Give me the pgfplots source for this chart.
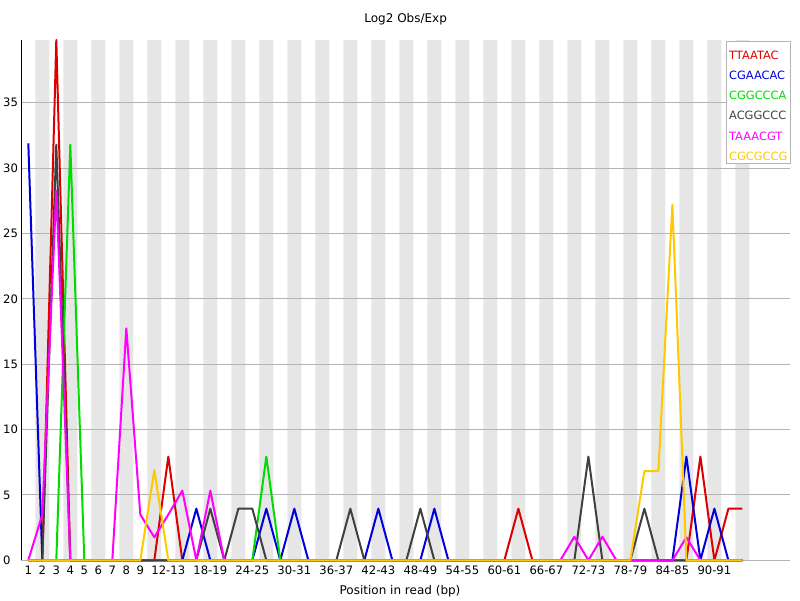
\documentclass[border=0pt]{standalone}
\usepackage{pgfplots}
\pgfplotsset{compat=1.18}
\usepackage{pgfplotstable}
\usepackage{fontspec}
\setmainfont{DejaVu Sans}

\definecolor{cRed}{RGB}{220,0,0}
\definecolor{cBlue}{RGB}{0,0,220}
\definecolor{cGreen}{RGB}{0,220,0}
\definecolor{cGray}{RGB}{64,64,64}
\definecolor{cMag}{RGB}{255,0,255}
\definecolor{cOrange}{RGB}{255,200,0}
\definecolor{stripe}{RGB}{230,230,230}
\definecolor{gridc}{RGB}{180,180,180}

\pgfplotstableread{
x red blue green gray mag orange
0 0 31.9 0 0 0 0
1 0 0 0 0 3.5 0
2 39.8 0 0 31.8 28.3 0
3 0 0 31.8 0 0 0
4 0 0 0 0 0 0
5 0 0 0 0 0 0
6 0 0 0 0 0 0
7 0 0 0 0 17.75 0
8 0 0 0 0 3.5 0
9 0 0 0 0 1.76 6.9
10 7.93 0 0 0 3.5 0
11 0 0 0 0 5.33 0
12 0 3.95 0 0 0 0
13 0 0 0 3.95 5.33 0
14 0 0 0 0 0 0
15 0 0 0 3.95 0 0
16 0 0 0 3.95 0 0
17 0 3.95 7.93 0 0 0
18 0 0 0 0 0 0
19 0 3.95 0 0 0 0
20 0 0 0 0 0 0
21 0 0 0 0 0 0
22 0 0 0 0 0 0
23 0 0 0 3.95 0 0
24 0 0 0 0 0 0
25 0 3.95 0 0 0 0
26 0 0 0 0 0 0
27 0 0 0 0 0 0
28 0 0 0 3.95 0 0
29 0 3.95 0 0 0 0
30 0 0 0 0 0 0
31 0 0 0 0 0 0
32 0 0 0 0 0 0
33 0 0 0 0 0 0
34 0 0 0 0 0 0
35 3.95 0 0 0 0 0
36 0 0 0 0 0 0
37 0 0 0 0 0 0
38 0 0 0 0 0 0
39 0 0 0 0 1.8 0
40 0 0 0 7.93 0 0
41 0 0 0 0 1.8 0
42 0 0 0 0 0 0
43 0 0 0 0 0 0
44 0 0 0 3.95 0 6.83
45 0 0 0 0 0 6.83
46 0 0 0 0 0 27.2
47 0 7.93 0 0 1.76 0
48 7.93 0 0 0 0 0
49 0 3.95 0 0 0 0
50 3.95 0 0 0 0 0
51 3.95 0 0 0 0 0
}\kmer

\begin{document}
\begin{tikzpicture}
\begin{axis}[
  set layers,
  scale only axis,
  width=768.7pt, height=520.3pt,
  xmin=-0.5, xmax=54.4, ymin=0, ymax=39.8,
  clip=false,
  axis lines*=left,
  x axis line style={draw=none},
  y axis line style={black, line width=1pt},
  major tick length=0pt,
  ytick={0,5,10,15,20,25,30,35},
  ymajorgrids,
  major grid style={gridc, line width=1pt},
  xtick={0,1,2,3,4,5,6,7,8,10,13,16,19,22,25,28,31,34,37,40,43,46,49},
  xticklabels={1,2,3,4,5,6,7,8,9,12-13,18-19,24-25,30-31,36-37,42-43,48-49,54-55,60-61,66-67,72-73,78-79,84-85,90-91},
  /pgf/number format/assume math mode=true,
  tick label style={font=\fontsize{11.6}{13}\selectfont, inner sep=0pt},
  xticklabel style={anchor=base, yshift=-13.9pt},
  yticklabel style={anchor=west, xshift=-18.3pt},
  title={Log2 Obs/Exp},
  title style={at={(axis description cs:0.5,1)}, anchor=base, yshift=11pt, inner sep=0pt, font=\fontsize{12}{14}\selectfont},
  xlabel={Position in read (bp)},
  xlabel style={at={(axis description cs:0.4927,0)}, anchor=base, yshift=-34pt, inner sep=0pt, font=\fontsize{12}{14}\selectfont},
  legend style={at={(axis description cs:1.0009,0.9987)}, anchor=north east,
    draw=gridc, fill=white, inner xsep=3pt, inner ysep=2.7pt,
    row sep=4.4pt, column sep=0pt,
    font=\fontsize{11.4}{13}\selectfont,
    nodes={inner sep=0pt, text height=15.8pt, text depth=0pt}},
  legend image code/.code={},
  legend cell align=left,
  every axis plot/.append style={line width=2pt, line join=round},
]
\addplot[on layer=axis background, ybar, bar width=1, bar shift=0, fill=stripe, draw=none, line width=0pt, forget plot]
  coordinates {(1,39.8) (3,39.8) (5,39.8) (7,39.8) (9,39.8) (11,39.8) (13,39.8) (15,39.8) (17,39.8) (19,39.8)
  (21,39.8) (23,39.8) (25,39.8) (27,39.8) (29,39.8) (31,39.8) (33,39.8) (35,39.8) (37,39.8) (39,39.8)
  (41,39.8) (43,39.8) (45,39.8) (47,39.8) (49,39.8) (51,39.8)};
\addplot[cRed] table[x=x, y=red] {\kmer};
\addlegendentry[text=cRed]{TTAATAC}
\addplot[cBlue] table[x=x, y=blue] {\kmer};
\addlegendentry[text=cBlue]{CGAACAC}
\addplot[cGreen] table[x=x, y=green] {\kmer};
\addlegendentry[text=cGreen]{CGGCCCA}
\addplot[cGray] table[x=x, y=gray] {\kmer};
\addlegendentry[text=cGray]{ACGGCCC}
\addplot[cMag] table[x=x, y=mag] {\kmer};
\addlegendentry[text=cMag]{TAAACGT}
\addplot[cOrange] table[x=x, y=orange] {\kmer};
\addlegendentry[text=cOrange]{CGCGCCG}
\end{axis}
\pgfresetboundingbox
\path (-21.3pt,-39.7pt) rectangle (778.7pt,560.3pt);
\end{tikzpicture}
\end{document}
